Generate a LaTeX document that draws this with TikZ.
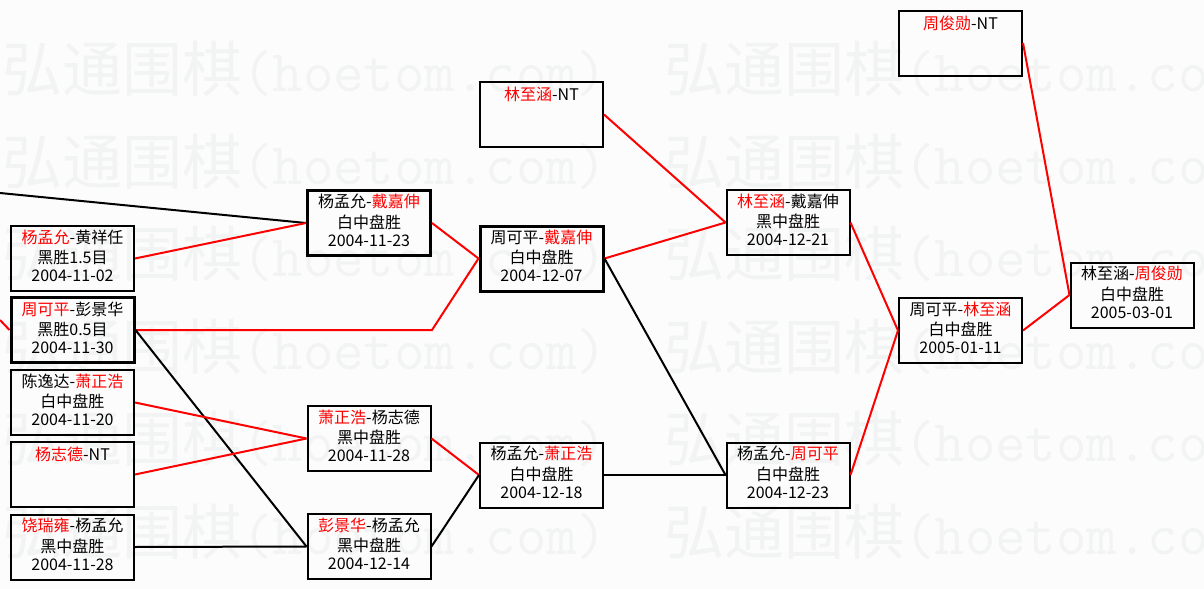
\documentclass[tikz,border=0pt]{standalone}
\usepackage{fontspec}
\setmainfont{Noto Sans CJK SC}
\newfontfamily\wmcjk{Noto Sans CJK SC}
\newfontfamily\wmmono{Latin Modern Mono}
\definecolor{wmgray}{RGB}{242,243,243}
\definecolor{bgc}{RGB}{252,252,252}
\definecolor{rd}{RGB}{255,0,0}
\newcommand{\rn}[1]{\textcolor{rd}{#1}}
\newcommand{\three}[3]{\strut #1\\\strut #2\\\strut #3}
\newcommand{\wmtext}{{\wmcjk\fontsize{45pt}{45pt}\selectfont 弘通围棋}{\wmmono\fontsize{44.3pt}{46pt}\selectfont (hoetom.com)}}
\begin{document}
\begin{tikzpicture}[x=0.75pt,y=-0.75pt,
  mbox/.style={draw=black, line width=1.5pt, minimum width=92.25pt, minimum height=48.75pt, inner sep=0pt, align=center, font=\fontsize{12pt}{13.5pt}\selectfont},
  mboxb/.style={mbox, line width=2.25pt},
  wl/.style={line width=1.5pt, draw=rd},
  ll/.style={line width=1.5pt, draw=black},
  wm/.style={anchor=west, inner sep=0pt, text=wmgray}]
\useasboundingbox (0,0) rectangle (1204,589);
\fill[bgc] (0,0) rectangle (1204,589);
% watermark
\foreach \i/\yy in {1/69,2/162,3/254,4/347,5/439,6/532}{
  \node[wm] (wm\i a) at (2,\yy) {\wmtext};
  \node[wm] (wm\i b) at (664,\yy) {\wmtext};
}
% column 1
\node[mbox]  (a1) at (72.5,258.5) {\three{\rn{杨孟允}-黄祥任}{黑胜1.5目}{2004-11-02}};
\node[mboxb] (a2) at (72.5,330)   {\three{\rn{周可平}-彭景华}{黑胜0.5目}{2004-11-30}};
\node[mbox]  (a3) at (72.5,402.5) {\three{陈逸达-\rn{萧正浩}}{白中盘胜}{2004-11-20}};
\node[mbox]  (a4) at (72.5,474.5) {\three{\rn{杨志德}-NT}{}{}};
\node[mbox]  (a5) at (72.5,547)   {\three{\rn{饶瑞雍}-杨孟允}{黑中盘胜}{2004-11-28}};
% column 2
\node[mboxb] (b1) at (369,223)   {\three{杨孟允-\rn{戴嘉伸}}{白中盘胜}{2004-11-23}};
\node[mbox]  (b2) at (369,438.5) {\three{\rn{萧正浩}-杨志德}{黑中盘胜}{2004-11-28}};
\node[mbox]  (b3) at (369,546.5) {\three{\rn{彭景华}-杨孟允}{黑中盘胜}{2004-12-14}};
% column 3
\node[mbox]  (c0) at (541.5,114.5) {\three{\rn{林至涵}-NT}{}{}};
\node[mboxb] (c1) at (541.5,258.5) {\three{周可平-\rn{戴嘉伸}}{白中盘胜}{2004-12-07}};
\node[mbox]  (c2) at (541.5,475)   {\three{杨孟允-\rn{萧正浩}}{白中盘胜}{2004-12-18}};
% column 4
\node[mbox]  (d1) at (788,222.5) {\three{\rn{林至涵}-戴嘉伸}{黑中盘胜}{2004-12-21}};
\node[mbox]  (d2) at (788,475)   {\three{杨孟允-\rn{周可平}}{白中盘胜}{2004-12-23}};
% column 5
\node[mbox]  (e0) at (960.5,43)    {\three{\rn{周俊勋}-NT}{}{}};
\node[mbox]  (e1) at (960.5,330.5) {\three{周可平-\rn{林至涵}}{白中盘胜}{2005-01-11}};
% column 6
\node[mbox]  (f1) at (1132,295) {\three{林至涵-\rn{周俊勋}}{白中盘胜}{2005-03-01}};
% incoming from outside
\coordinate (inA) at (0,193);
\coordinate (inB) at (0,320);
% connectors
\draw[ll] (inA) -- (b1.west);
\draw[wl] (inB) -- (a2.west);
\draw[wl] (a1.east) -- (b1.west);
\draw[wl] (a2.east) -- (a2.east -| b1.east) -- (c1.west);
\draw[ll] (a2.east) -- (b3.west);
\draw[wl] (a3.east) -- (b2.west);
\draw[wl] (a4.east) -- (b2.west);
\draw[ll] (a5.east) -- (b3.west);
\draw[wl] (b1.east) -- (c1.west);
\draw[wl] (b2.east) -- (c2.west);
\draw[ll] (b3.east) -- (c2.west);
\draw[wl] (c0.east) -- (d1.west);
\draw[wl] (c1.east) -- (d1.west);
\draw[ll] (c1.east) -- (d2.west);
\draw[ll] (c2.east) -- (d2.west);
\draw[wl] (d1.east) -- (e1.west);
\draw[wl] (d2.east) -- (e1.west);
\draw[wl] (e0.east) -- (f1.west);
\draw[wl] (e1.east) -- (f1.west);
\end{tikzpicture}
\end{document}
